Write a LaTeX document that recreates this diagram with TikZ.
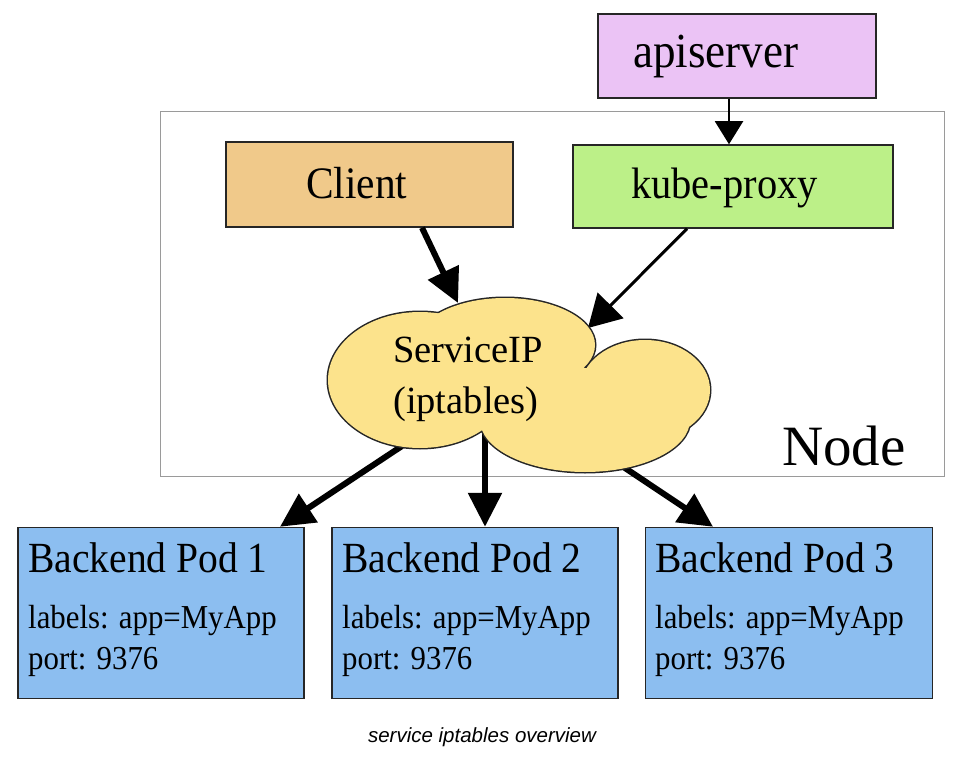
\documentclass[tikz,border=0pt]{standalone}
\usepackage{fontspec}
\setmainfont{Liberation Serif}
\newfontfamily\condserif[FakeStretch=0.92]{Liberation Serif}
\newfontfamily\capfont{Liberation Sans}
\usetikzlibrary{arrows.meta}
\definecolor{apicol}{HTML}{EBC3F5}
\definecolor{clientcol}{HTML}{F0C98A}
\definecolor{kubecol}{HTML}{BCF088}
\definecolor{cloudcol}{HTML}{FCE38C}
\definecolor{podcol}{HTML}{8CBEF0}
\definecolor{framecol}{HTML}{9A9A9A}
\begin{document}
\begin{tikzpicture}[x=1pt,y=-1pt,
  box/.style={draw=black!85, line width=1.5pt, inner sep=0pt, minimum width=#1},
  txt/.style={inner sep=0pt, anchor=base west},
  bigarrow/.style={line width=6pt, -{Triangle[length=34pt,width=33pt]}},
  midarrow/.style={line width=3pt, -{Triangle[length=32pt,width=36pt]}},
  smallarrow/.style={line width=2pt, -{Triangle[length=23pt,width=28pt]}},
  f45/.style={font=\condserif\fontsize{45}{50}\selectfont},
  f49/.style={font=\condserif\fontsize{49}{54}\selectfont},
  f44/.style={font=\condserif\fontsize{44}{48}\selectfont},
  f43/.style={font=\condserif\fontsize{43}{48}\selectfont},
  f33/.style={font=\condserif\fontsize{33.5}{38}\selectfont},
  f38/.style={font=\fontsize{38.5}{44}\selectfont},
  f57/.style={font=\fontsize{57}{62}\selectfont},
]
\useasboundingbox[fill=white] (0,0) rectangle (964,757);

% Node frame
\node[draw=framecol, line width=1pt, minimum width=784pt, minimum height=364pt, inner sep=0pt] (frame) at (552,294) {};
\node[txt,f57] (nodelbl) at (782,465) {Node};

% boxes
\node[box=278pt, fill=apicol, minimum height=84pt] (api) at (737,56) {};
\node[txt,f49] (apitxt) at (633,68) {apiserver};
\node[box=287pt, fill=clientcol, minimum height=85pt] (client) at (369.5,184.5) {};
\node[txt,f45] (clienttxt) at (306,198) {Client};
\node[box=320pt, fill=kubecol, minimum height=83pt] (kube) at (733,186.5) {};
\node[txt,f44] (kubetxt) at (631,198) {kube-proxy};

\node[box=286pt, fill=podcol, minimum height=171pt] (pod1) at (161,613) {};
\node[box=286pt, fill=podcol, minimum height=171pt] (pod2) at (475,613) {};
\node[box=287pt, fill=podcol, minimum height=171pt] (pod3) at (789,613) {};
\foreach \p/\x/\n in {pod1/28/1, pod2/342/2, pod3/655/3}{
  \node[txt,f43] (\p t1) at (\x,572) {Backend Pod \n};
  \node[txt,f33] (\p t2) at (\x,628) {labels: app=MyApp};
  \node[txt,f33] (\p t3) at (\x,669) {port: 9376};
}

% arrow end points on the cloud
\coordinate (cin1) at (458,303);
\coordinate (cin2) at (588,328);
\coordinate (cout1) at (402,446);
\coordinate (cout2) at (485,434);
\coordinate (cout3) at (622,466);

% arrows
\draw[smallarrow] (729,0 |- api.south) -- (729,0 |- kube.north);
\draw[bigarrow] (422,0 |- client.south) -- (cin1);
\draw[midarrow] (687,0 |- kube.south) -- (cin2);
\draw[bigarrow] (cout1) -- (280,0 |- pod1.north);
\draw[bigarrow] (cout2) -- (485,0 |- pod2.north);
\draw[bigarrow] (cout3) -- (713,0 |- pod3.north);

% cloud
\foreach \cx/\cy/\rx/\ry in {420/380/92/68, 505/345/90/47, 645/390/65/50, 585/420/105/52}{
  \draw[line width=3pt, black!85] (\cx,\cy) ellipse [x radius=\rx, y radius=\ry];
}
\foreach \cx/\cy/\rx/\ry in {420/380/92/68, 505/345/90/47, 645/390/65/50, 585/420/105/52}{
  \fill[cloudcol] (\cx,\cy) ellipse [x radius=\rx, y radius=\ry];
}
\node[txt,f38] (svc1) at (393,362) {ServiceIP};
\node[txt,f38] (svc2) at (393,413) {(iptables)};

% caption
\node[inner sep=0pt, anchor=base, font=\capfont\itshape\fontsize{20.5}{24}\selectfont] (caption) at (482,742) {service iptables overview};
\end{tikzpicture}
\end{document}
